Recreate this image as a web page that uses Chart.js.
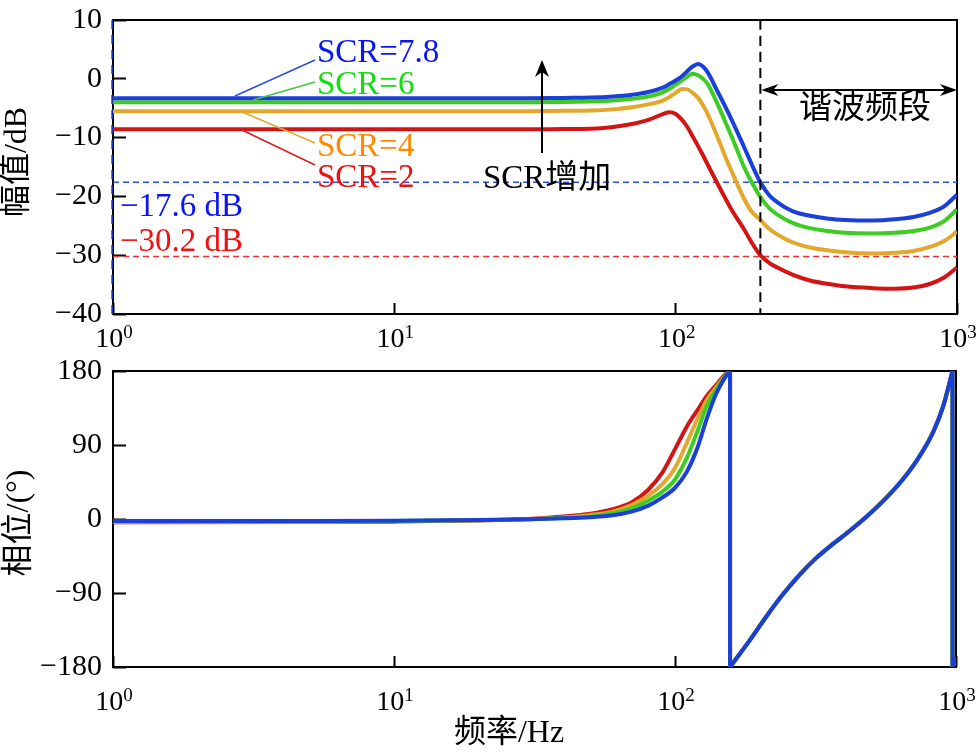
<!DOCTYPE html>
<html>
<head>
<meta charset="utf-8">
<script src="https://cdn.jsdelivr.net/npm/chart.js@4"></script>
<style>
body { margin: 0; background: #fff; width: 980px; height: 753px; overflow: hidden; position: relative; }
canvas { position: absolute; left: 0; }
#mag { top: 0; }
#phase { top: 345px; }
</style>
</head>
<body>
<canvas id="mag" width="980" height="360"></canvas>
<canvas id="phase" width="980" height="408"></canvas>
<script>
// x ticks (decades)
const xTicks = [1, 10, 100, 1000];
const magTicks = [10, 0, -10, -20, -30, -40];
const phaseTicks = [180, 90, 0, -90, -180];

// magnitude (dB)
const freqMag = [1, 2, 5, 10, 20, 30, 40, 50, 60, 70, 80, 90, 95, 100, 105, 110, 115, 120, 125, 130, 140, 150, 160, 175, 185, 200, 215, 230, 260, 300, 350, 400, 500, 600, 700, 800, 900, 1000];
const magSCR78 = [-3.3, -3.3, -3.3, -3.3, -3.3, -3.3, -3.25, -3.2, -3.0, -2.7, -2.25, -1.5, -0.9, -0.3, 0.4, 1.3, 2.1, 2.5, 2.1, 1.1, -1.9, -4.7, -7.5, -11.6, -14.2, -17.6, -19.8, -21.0, -22.5, -23.3, -23.8, -24.0, -24.1, -23.9, -23.5, -22.8, -21.7, -19.7];
const magSCR6 = [-4.0, -4.0, -4.0, -4.0, -4.0, -4.0, -3.95, -3.85, -3.7, -3.4, -3.0, -2.3, -1.7, -1.0, -0.3, 0.4, 0.85, 0.6, 0.0, -0.9, -4.0, -7.3, -10.4, -15.0, -17.3, -20.1, -22.0, -23.1, -24.5, -25.4, -25.9, -26.2, -26.3, -26.2, -25.9, -25.3, -24.2, -22.2];
const magSCR4 = [-5.5, -5.5, -5.5, -5.5, -5.5, -5.5, -5.45, -5.4, -5.2, -4.85, -4.35, -3.7, -3.1, -2.4, -1.75, -1.8, -2.4, -3.2, -4.5, -6.0, -9.6, -13.2, -16.3, -20.4, -22.4, -24.0, -25.5, -26.5, -27.8, -28.7, -29.2, -29.5, -29.7, -29.6, -29.3, -28.6, -27.6, -26.0];
const magSCR2 = [-8.6, -8.6, -8.6, -8.6, -8.6, -8.6, -8.55, -8.5, -8.2, -7.7, -7.0, -6.0, -5.7, -6.0, -6.9, -8.2, -9.8, -11.4, -13.0, -14.6, -17.6, -20.3, -22.7, -25.6, -27.6, -30.0, -31.3, -32.1, -33.3, -34.3, -34.9, -35.3, -35.6, -35.7, -35.5, -34.9, -33.8, -32.1];
const refLevels = [-17.6, -30.2];
const harmonicStart = 200;

// phase (deg), low band before the first wrap
const freqPhaseLow = [1, 5, 10, 20, 30, 40, 50, 60, 70, 80, 90, 100, 110, 120, 130, 140, 150, 157];
const phaseSCR78 = [-2.5, -2.3, -2.0, -1.2, -0.3, 0.8, 2.2, 4.5, 9, 16, 26, 38, 57, 86, 123, 152, 171, 180];
const phaseSCR6 = [-3.0, -2.8, -2.4, -1.4, -0.3, 1.2, 3.2, 7, 13, 22, 33, 48, 74, 106, 138, 157, 172, 180];
const phaseSCR4 = [-3.5, -3.3, -2.8, -1.6, -0.2, 1.8, 4.8, 9, 17, 28, 42, 62, 92, 121, 145, 160, 173, 180];
const phaseSCR2 = [-4.0, -3.8, -3.2, -1.8, 0, 3, 6.5, 12, 20, 35, 56, 85, 112, 132, 150, 163, 175, 180];
// after the wrap the four curves coincide
const freqPhaseHigh = [157, 185, 212, 243, 279, 319, 366, 420, 481, 551, 632, 725, 830, 900, 972];
const phaseHigh = [-180, -147, -118, -91, -67, -47, -30, -14, 3, 22, 44, 71, 106, 137, 180];
const freqPhaseTail = [972, 1000];
const phaseTail = [-180, -168];

const series = [
  { label: 'SCR=7.8', mag: magSCR78, phase: phaseSCR78, color: '#1b3fd9', text: '#0a14f5' },
  { label: 'SCR=6', mag: magSCR6, phase: phaseSCR6, color: '#3ccc22', text: '#10e010' },
  { label: 'SCR=4', mag: magSCR4, phase: phaseSCR4, color: '#e3a82b', text: '#ff8a00' },
  { label: 'SCR=2', mag: magSCR2, phase: phaseSCR2, color: '#d21414', text: '#f01010' }
];

const SERIF = "'Liberation Serif', 'Noto Sans CJK SC', serif";
const minus = v => String(v).replace('-', '\u2212');

function phasePoints(low) {
  const pts = freqPhaseLow.map((f, i) => ({ x: f, y: low[i] }));
  const w1 = freqPhaseHigh[0], w2 = freqPhaseHigh[freqPhaseHigh.length - 1];
  pts.push({ x: w1, y: null }, { x: w1, y: 180 }, { x: w1, y: -180 }, { x: w1, y: null });
  freqPhaseHigh.forEach((f, i) => pts.push({ x: f, y: phaseHigh[i] }));
  pts.push({ x: w2, y: null }, { x: w2, y: 180 }, { x: w2, y: -180 }, { x: w2, y: null });
  freqPhaseTail.forEach((f, i) => pts.push({ x: f, y: phaseTail[i] }));
  return pts;
}

function xScale(h) {
  return {
    type: 'logarithmic', min: 1, max: 1000,
    afterBuildTicks: s => { s.ticks = xTicks.map(v => ({ value: v })); },
    afterFit: s => { s.height = h; s.paddingLeft = 0; s.paddingRight = 0; },
    ticks: { display: false },
    grid: { drawOnChartArea: false, tickLength: -11, tickWidth: 2, tickColor: '#000' },
    border: { display: false }
  };
}

function yScale(min, max, ticks) {
  return {
    min, max,
    afterBuildTicks: s => { s.ticks = ticks.map(v => ({ value: v })); },
    afterFit: s => { s.width = 113; s.paddingTop = 0; s.paddingBottom = 0; },
    ticks: { color: '#000', padding: 24, font: { family: SERIF, size: 30 }, callback: v => minus(v) },
    grid: { drawOnChartArea: false, tickLength: -13, tickWidth: 2, tickColor: '#000' },
    border: { display: false }
  };
}

function drawFrame(chart) {
  const { ctx, chartArea: a } = chart;
  ctx.save();
  ctx.strokeStyle = '#000';
  ctx.lineWidth = 2;
  ctx.strokeRect(a.left, a.top, a.right - a.left, a.bottom - a.top);
  ctx.restore();
}

function drawXLabels(chart, base) {
  const { ctx, chartArea: a } = chart;
  const xs = chart.scales.x;
  ctx.save();
  ctx.fillStyle = '#000';
  ctx.textAlign = 'left';
  ctx.textBaseline = 'alphabetic';
  xTicks.forEach(v => {
    const px = xs.getPixelForValue(v);
    const exp = String(Math.round(Math.log10(v)));
    ctx.font = '28px ' + SERIF;
    const w1 = ctx.measureText('10').width;
    ctx.font = '19px ' + SERIF;
    const w2 = ctx.measureText(exp).width;
    const x0 = px - (w1 + w2) / 2 + 1;
    ctx.font = '28px ' + SERIF;
    ctx.fillText('10', x0, a.bottom + base);
    ctx.font = '19px ' + SERIF;
    ctx.fillText(exp, x0 + w1, a.bottom + base - 9);
  });
  ctx.restore();
}

function vText(ctx, txt, x, y) {
  ctx.save();
  ctx.translate(x, y);
  ctx.rotate(-Math.PI / 2);
  ctx.font = '32px ' + SERIF;
  ctx.fillStyle = '#000';
  ctx.textAlign = 'center';
  ctx.textBaseline = 'middle';
  ctx.fillText(txt, 0, 0);
  ctx.restore();
}

function arrowHead(ctx, x, y, dx, dy, len, half) {
  const bx = x - dx * len, by = y - dy * len;
  const nx = -dy, ny = dx;
  ctx.beginPath();
  ctx.moveTo(x, y);
  ctx.lineTo(bx + nx * half, by + ny * half);
  ctx.lineTo(x - dx * len * 0.7, y - dy * len * 0.7);
  ctx.lineTo(bx - nx * half, by - ny * half);
  ctx.closePath();
  ctx.fill();
}

const magDecor = {
  id: 'magDecor',
  beforeDatasetsDraw(chart) { drawFrame(chart); },
  afterDatasetsDraw(chart) {
    const { ctx, chartArea: a } = chart;
    const xs = chart.scales.x;
    ctx.save();
    // blue dashes on the left border
    ctx.strokeStyle = '#2040f0';
    ctx.lineWidth = 1.5;
    ctx.setLineDash([9, 6]);
    ctx.beginPath();
    ctx.moveTo(a.left - 1, a.top);
    ctx.lineTo(a.left - 1, a.bottom);
    ctx.stroke();
    ctx.setLineDash([]);

    // leader lines
    const leaders = [[235, 96, 315, 60, '#2a50e0'], [253, 100, 315, 82, '#44c844'], [240, 111, 315, 143, '#e8a830'], [242, 130, 315, 165, '#d42020']];
    ctx.lineWidth = 1.5;
    leaders.forEach(l => {
      ctx.strokeStyle = l[4];
      ctx.beginPath();
      ctx.moveTo(l[0], l[1]);
      ctx.lineTo(l[2], l[3]);
      ctx.stroke();
    });

    // series labels
    ctx.font = '33px ' + SERIF;
    ctx.textAlign = 'left';
    ctx.textBaseline = 'alphabetic';
    const baselines = [62, 94, 156, 187];
    series.forEach((s, i) => {
      ctx.fillStyle = s.text;
      ctx.fillText(s.label, 317, baselines[i]);
    });
    ctx.fillStyle = '#0a14f5';
    ctx.fillText(minus(refLevels[0]) + ' dB', 120, 216);
    ctx.fillStyle = '#f01010';
    ctx.fillText(minus(refLevels[1]) + ' dB', 120, 251);

    // SCR increase arrow
    ctx.fillStyle = '#000';
    ctx.strokeStyle = '#000';
    ctx.lineWidth = 2;
    ctx.beginPath();
    ctx.moveTo(542, 153);
    ctx.lineTo(542, 70);
    ctx.stroke();
    arrowHead(ctx, 542, 60, 0, -1, 17, 7);
    ctx.fillText('SCR增加', 483, 188);

    // harmonic band arrow
    const hx = xs.getPixelForValue(harmonicStart);
    ctx.beginPath();
    ctx.moveTo(hx + 8, 90);
    ctx.lineTo(a.right - 8, 90);
    ctx.stroke();
    arrowHead(ctx, hx + 1, 90, -1, 0, 17, 6);
    ctx.textAlign = 'center';
    ctx.textBaseline = 'middle';
    ctx.fillText('谐波频段', 865, 109);
    arrowHead(ctx, a.right, 90, 1, 0, 17, 6);
    ctx.restore();

    drawXLabels(chart, 33);
    vText(ctx, '幅值/dB', 18, 162);
  }
};

const phaseDecor = {
  id: 'phaseDecor',
  beforeDatasetsDraw(chart) { drawFrame(chart); },
  afterDatasetsDraw(chart) {
    const { ctx } = chart;
    drawXLabels(chart, 43);
    vText(ctx, '相位/(°)', 20, 178);
    ctx.save();
    ctx.font = '32px ' + SERIF;
    ctx.fillStyle = '#000';
    ctx.textAlign = 'center';
    ctx.textBaseline = 'middle';
    ctx.fillText('频率/Hz', 509, 389);
    ctx.restore();
  }
};

const common = {
  responsive: false,
  devicePixelRatio: 1,
  animation: false,
  events: [],
  plugins: { legend: { display: false }, tooltip: { enabled: false } },
  elements: { point: { radius: 0 }, line: { cubicInterpolationMode: 'monotone' } }
};

const magSets = series.map((s, i) => ({
  label: s.label,
  data: freqMag.map((f, j) => ({ x: f, y: s.mag[j] })),
  borderColor: s.color, borderWidth: 4, order: i + 1
}));
magSets.push({
  label: 'harmonic', data: [{ x: harmonicStart, y: 10 }, { x: harmonicStart, y: -40 }],
  borderColor: '#000', borderWidth: 2, borderDash: [10, 6], order: 0
});
magSets.push({
  label: 'ref1', data: [{ x: 1, y: refLevels[0] }, { x: 1000, y: refLevels[0] }],
  borderColor: '#3050e0', borderWidth: 1.5, borderDash: [6, 4], order: 6
});
magSets.push({
  label: 'ref2', data: [{ x: 1, y: refLevels[1] }, { x: 1000, y: refLevels[1] }],
  borderColor: '#f03030', borderWidth: 1.5, borderDash: [6, 4], order: 7
});

new Chart(document.getElementById('mag'), {
  type: 'line',
  data: { datasets: magSets },
  options: Object.assign({}, common, {
    layout: { padding: { top: 20, right: 23, bottom: 0, left: 0 } },
    scales: { x: xScale(46), y: yScale(-40, 10, magTicks) }
  }),
  plugins: [magDecor]
});

new Chart(document.getElementById('phase'), {
  type: 'line',
  data: {
    datasets: series.map((s, i) => ({
      label: s.label,
      data: phasePoints(s.phase),
      borderColor: s.color, borderWidth: 4, order: i + 1
    }))
  },
  options: Object.assign({}, common, {
    layout: { padding: { top: 26, right: 24, bottom: 0, left: 0 } },
    scales: { x: xScale(86), y: yScale(-180, 180, phaseTicks) }
  }),
  plugins: [phaseDecor]
});
</script>
</body>
</html>
